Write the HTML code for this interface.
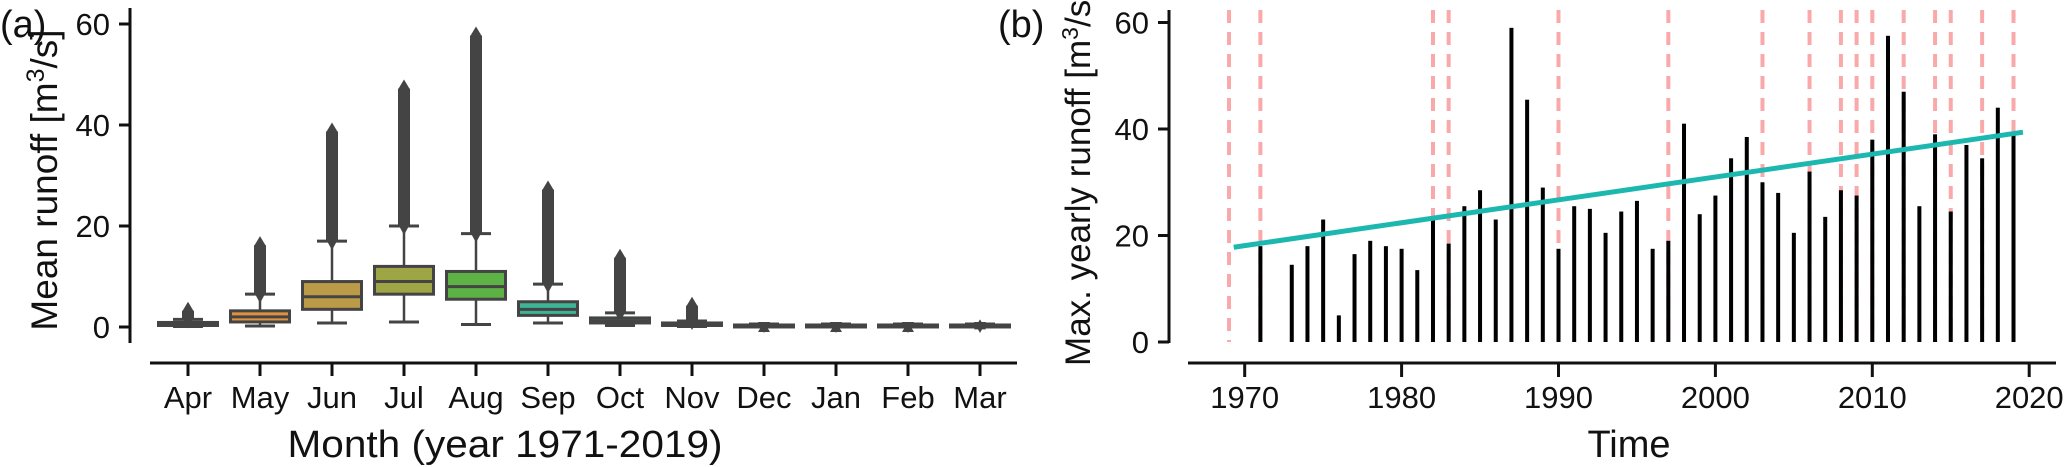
<!DOCTYPE html>
<html><head><meta charset="utf-8"><style>
body{margin:0;background:#fff;overflow:hidden;}
svg{display:block;}
svg text{font-family:"Liberation Sans",sans-serif;fill:#111;}
</style></head><body>
<svg width="2067" height="467" xmlns="http://www.w3.org/2000/svg" id="fig">
<g id="pa"></g>
<g id="pb"></g>
</svg>
<script>
const months=["Apr","May","Jun","Jul","Aug","Sep","Oct","Nov","Dec","Jan","Feb","Mar"];
const medians=[0.5,2,6,9,8,3.5,1.2,0.5,0.3,0.3,0.3,0.3];
const q1s=[0.3,1,3.5,6.5,5.5,2.3,0.8,0.3,0.2,0.2,0.2,0.2];
const q3s=[0.9,3.2,9,12,11,5,1.8,0.8,0.4,0.4,0.4,0.4];
const whiskLo=[0.1,0.2,0.8,1,0.5,0.8,0.3,0.1,0.1,0.1,0.1,0.1];
const whiskHi=[1.5,6.5,17,20,18.5,8.5,2.8,1.2,0.6,0.6,0.6,0.6];
const flierMax=[5,18,40.5,49,59.5,29,15.5,6,1,1,1,1.5];
const boxColors=["#e4778a","#e0913f","#bb9a48","#9da544","#5cb245","#3eb496","#3ab0a8","#4aa8c0","#7a9ee0","#a890e6","#d07ed8","#e07ab6"];
const aTicks=[0,20,40,60];

const years=[];for(let y=1971;y<=2019;y++)years.push(y);
const maxRunoff=[18,0,14.5,18,23,5,16.5,19,18,17.5,13.5,23,18.5,25.5,28.5,23,59,45.5,29,17.5,25.5,25,20.5,24.5,26.5,17.5,19,41,24,27.5,34.5,38.5,30,28,20.5,32,23.5,28.5,27.5,38,57.5,47,25.5,39,24.5,37,34.5,44,39.5];
const changeYears=[1969,1971,1982,1983,1990,1997,2003,2006,2008,2009,2010,2012,2014,2015,2017,2019];
const trendYears=[1969.3,2019.6];
const trendValues=[17.8,39.4];
const bYTicks=[0,20,40,60];
const bXTicks=[1970,1980,1990,2000,2010,2020];

const NS="http://www.w3.org/2000/svg";
function mk(parent,tag,attrs,text){const e=document.createElementNS(NS,tag);for(const k in attrs)e.setAttribute(k,attrs[k]);if(text!==undefined)e.textContent=text;parent.appendChild(e);return e;}

// Panel A
const pa=document.getElementById('pa');
const ay=v=>327-v*(101/20);
const ax=i=>188+i*72;
let e;
e=mk(pa,'line',{x1:130,y1:8,x2:130,y2:343,stroke:'#111','stroke-width':3});

e=mk(pa,'line',{x1:150,y1:363,x2:1017,y2:363,stroke:'#111','stroke-width':3});

aTicks.forEach(t=>{
 e=mk(pa,'line',{x1:119,y1:ay(t),x2:130,y2:ay(t),stroke:'#111','stroke-width':3});
 
 e=mk(pa,'text',{x:110,y:ay(t)+11,'text-anchor':'end','font-size':31},t);
 
});
months.forEach((m,i)=>{
 const x=ax(i),w=59;
 const g=mk(pa,'g',{});
 
 mk(g,'rect',{x:x-6,y:ay(flierMax[i])+9,width:12,height:Math.max(0,ay(whiskHi[i])-ay(flierMax[i])-9),fill:'#444'});
 mk(g,'polygon',{points:`${x},${ay(flierMax[i])} ${x+6},${ay(flierMax[i])+10} ${x-6},${ay(flierMax[i])+10}`,fill:'#444'});
 mk(g,'polygon',{points:`${x-6},${ay(whiskHi[i])-2} ${x+6},${ay(whiskHi[i])-2} ${x},${ay(whiskHi[i])+9}`,fill:'#444'});
 mk(g,'line',{x1:x,y1:ay(whiskHi[i]),x2:x,y2:ay(whiskLo[i]),stroke:'#444','stroke-width':2.5});
 mk(g,'line',{x1:x-15,y1:ay(whiskHi[i]),x2:x+15,y2:ay(whiskHi[i]),stroke:'#444','stroke-width':3});
 mk(g,'line',{x1:x-15,y1:ay(whiskLo[i]),x2:x+15,y2:ay(whiskLo[i]),stroke:'#444','stroke-width':3});
 mk(g,'rect',{x:x-w/2,y:ay(q3s[i]),width:w,height:Math.max(2,ay(q1s[i])-ay(q3s[i])),fill:boxColors[i],stroke:'#444','stroke-width':3});
 mk(g,'line',{x1:x-w/2,y1:ay(medians[i]),x2:x+w/2,y2:ay(medians[i]),stroke:'#444','stroke-width':3});
 e=mk(pa,'line',{x1:x,y1:363,x2:x,y2:376,stroke:'#111','stroke-width':3});
 
 e=mk(pa,'text',{x:x,y:408,'text-anchor':'middle','font-size':31},m);
 
});
e=mk(pa,'text',{x:0,y:0,transform:'translate(57,180) rotate(-90)','text-anchor':'middle','font-size':37},'');
e.innerHTML='Mean runoff [m<tspan dy="-13" font-size="25">3</tspan><tspan dy="13">/s]</tspan>';

e=mk(pa,'text',{x:505,y:457,'text-anchor':'middle','font-size':38,textLength:435,lengthAdjust:'spacingAndGlyphs'},'Month (year 1971-2019)');

e=mk(pa,'text',{x:0,y:37,'font-size':38},'(a)');


// Panel B
const pb=document.getElementById('pb');
const bx=y=>1244.7+(y-1970)*15.69;
const by=v=>342-v*(319.5/60);
e=mk(pb,'line',{x1:1169,y1:10,x2:1169,y2:343,stroke:'#111','stroke-width':3});

e=mk(pb,'line',{x1:1188,y1:363,x2:2056,y2:363,stroke:'#111','stroke-width':3});

bYTicks.forEach(t=>{
 e=mk(pb,'line',{x1:1158,y1:by(t),x2:1169,y2:by(t),stroke:'#111','stroke-width':3});
 
 e=mk(pb,'text',{x:1149,y:by(t)+11,'text-anchor':'end','font-size':31},t);
 
});
bXTicks.forEach(t=>{
 e=mk(pb,'line',{x1:bx(t),y1:363,x2:bx(t),y2:377,stroke:'#111','stroke-width':3});
 
 e=mk(pb,'text',{x:bx(t),y:408,'text-anchor':'middle','font-size':31},t);
 
});
changeYears.forEach(y=>{
 e=mk(pb,'line',{x1:bx(y),y1:10,x2:bx(y),y2:by(0),stroke:'#f57070','stroke-opacity':0.6,'stroke-width':4,'stroke-dasharray':'13,9'});
 
});
years.forEach((y,i)=>{
 if(!maxRunoff[i])return;
 e=mk(pb,'rect',{x:bx(y)-2,y:by(maxRunoff[i]),width:4,height:by(0)-by(maxRunoff[i]),fill:'#000'});
 
});
e=mk(pb,'line',{x1:bx(trendYears[0]),y1:by(trendValues[0]),x2:bx(trendYears[1]),y2:by(trendValues[1]),stroke:'#1cb8b0','stroke-width':5});

e=mk(pb,'text',{x:0,y:0,transform:'translate(1090,178) rotate(-90)','text-anchor':'middle','font-size':35},'');
e.innerHTML='Max. yearly runoff [m<tspan dy="-12" font-size="23">3</tspan><tspan dy="12">/s]</tspan>';

e=mk(pb,'text',{x:1629,y:457,'text-anchor':'middle','font-size':38},'Time');

e=mk(pb,'text',{x:998,y:37,'font-size':38},'(b)');

</script>
</body></html>
